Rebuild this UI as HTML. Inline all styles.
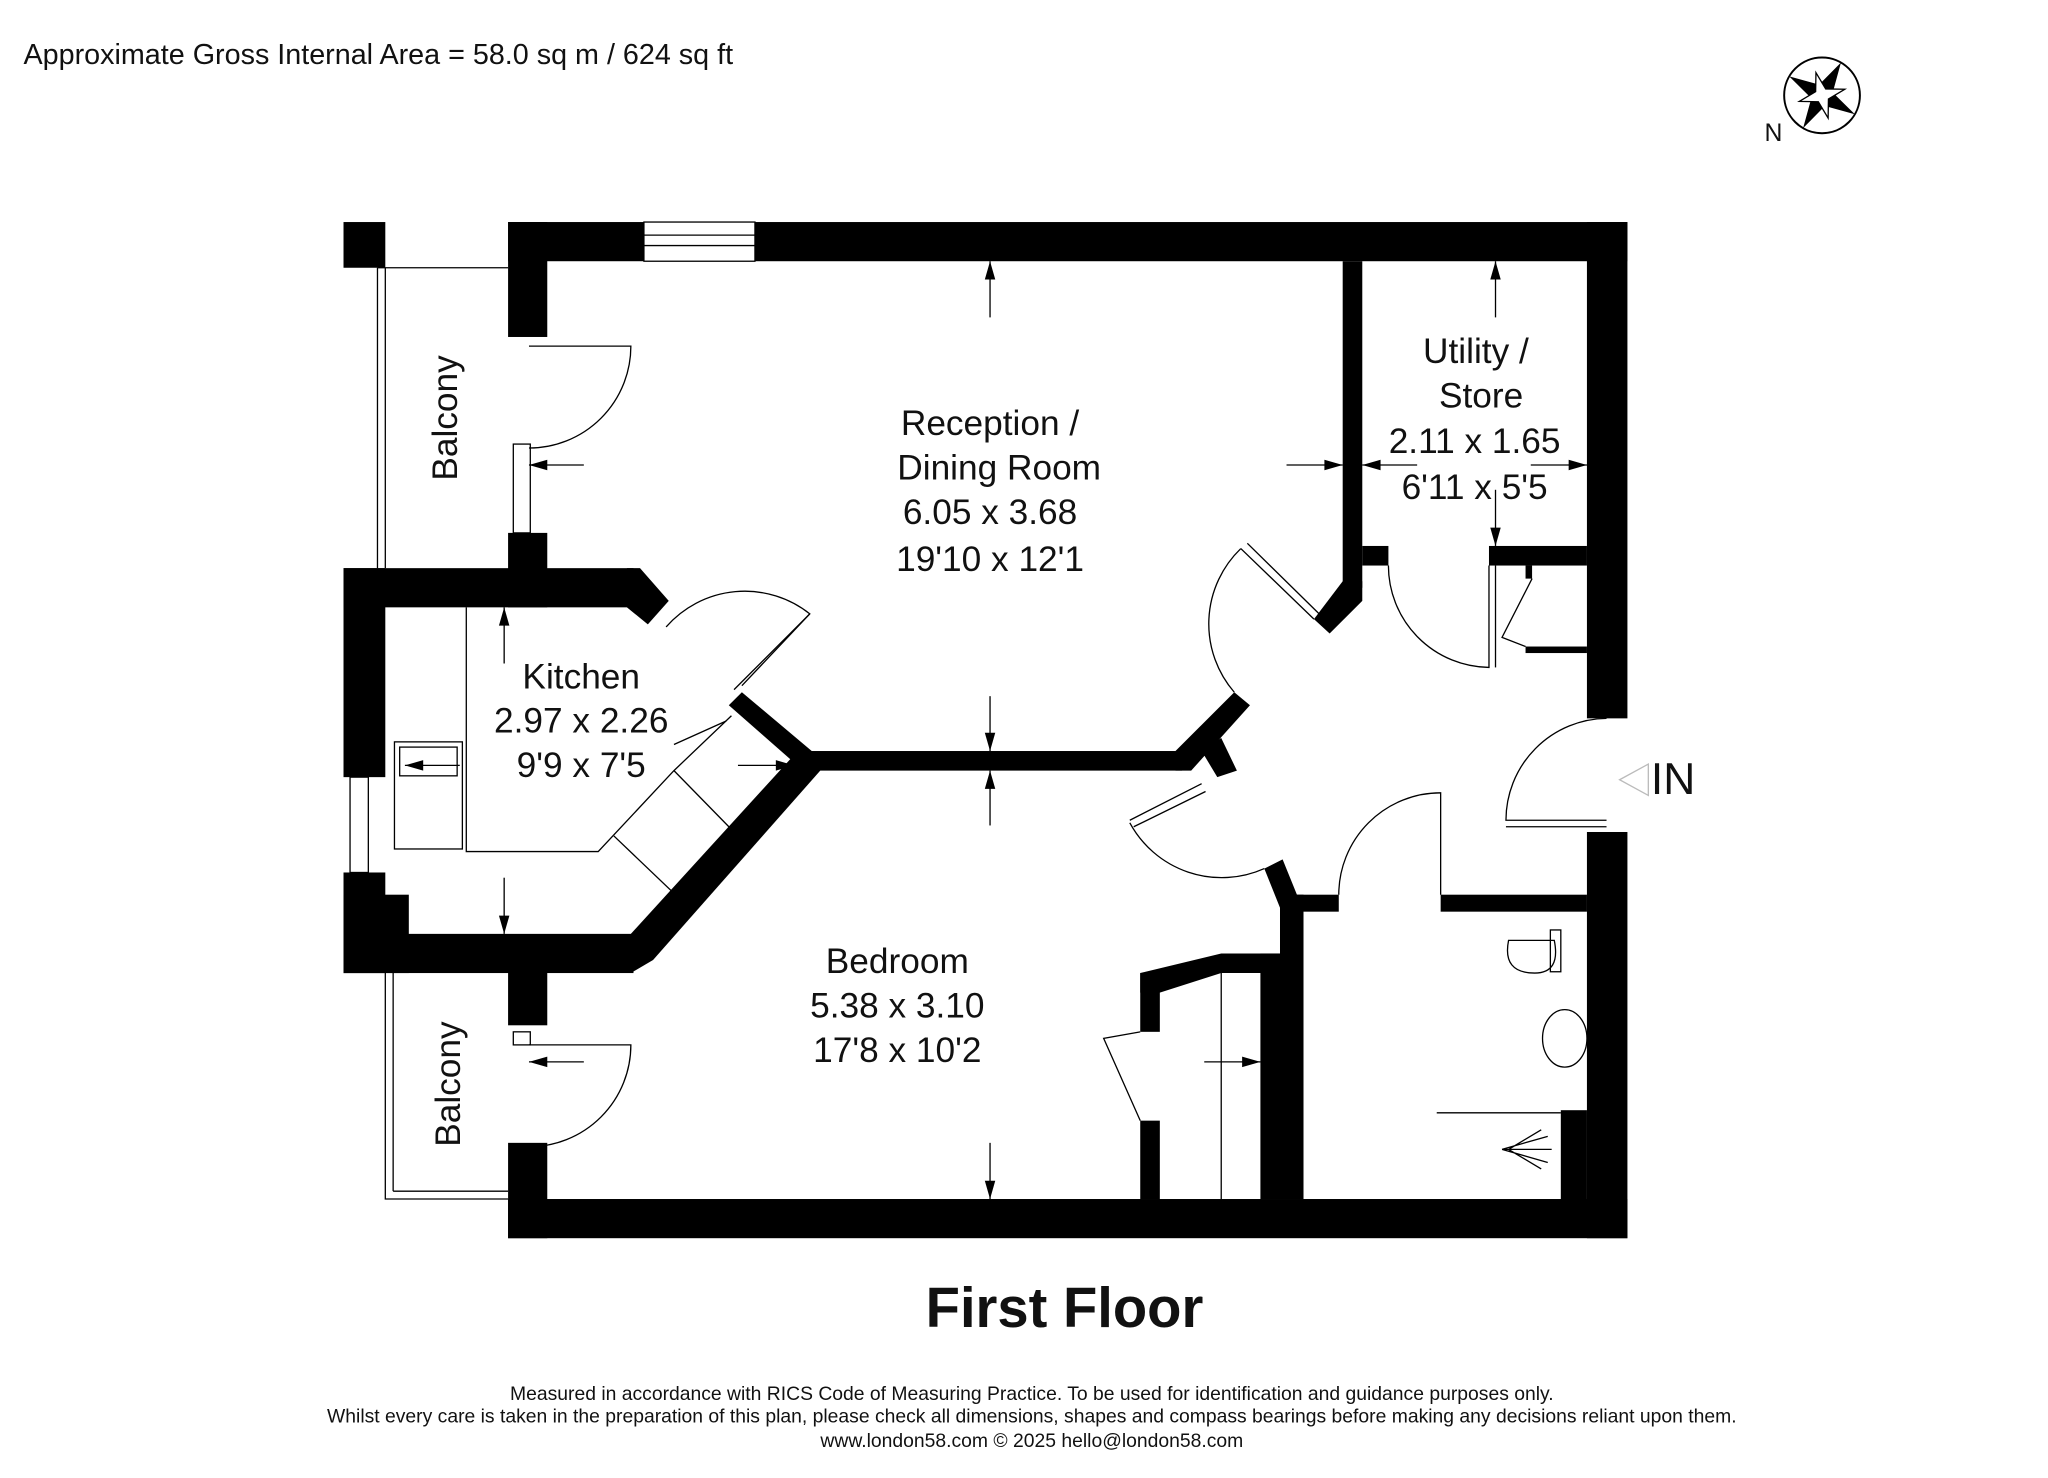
<!DOCTYPE html>
<html><head><meta charset="utf-8"><style>
html,body{margin:0;padding:0;background:#fff;}
svg{display:block;}
text{font-family:"Liberation Sans",sans-serif;fill:#111;}
</style></head><body>
<svg width="2048" height="1478" viewBox="0 0 1568 1131.6" xmlns="http://www.w3.org/2000/svg">
<rect width="1568" height="1132" fill="#fff"/>
<text x="18" y="49" font-size="22">Approximate Gross Internal Area = 58.0 sq m / 624 sq ft</text>
<!-- compass -->
<g transform="translate(1395,73)">
<circle r="29" fill="none" stroke="#000" stroke-width="1.5"/>
<polygon points="0,-29 6,-6 29,0 6,6 0,29 -6,6 -29,0 -6,-6" fill="#000" transform="rotate(30)"/>
<polygon points="0,-18 4,-4 18,0 4,4 0,18 -4,4 -18,0 -4,-4" fill="#fff" stroke="#000" transform="rotate(75)"/>
</g>
<text x="1351" y="108" font-size="19">N</text>
<g fill="#000">
<rect x="389" y="170" width="104" height="30"/>
<rect x="578" y="170" width="668" height="30"/>
<rect x="263" y="170" width="32" height="35"/>
<rect x="389" y="170" width="30" height="88"/>
<rect x="1215" y="170" width="31" height="380"/>
<rect x="1215" y="637" width="31" height="311"/>
<rect x="389" y="918" width="857" height="30"/>
<rect x="389" y="875" width="30" height="73"/>
<rect x="263" y="435" width="32" height="160"/>
<rect x="263" y="668" width="32" height="77"/>
<rect x="263" y="435" width="222" height="30"/>
<polygon points="480,435 490,435 512,460 496,478 480,465"/>
<rect x="389" y="408" width="30" height="57"/>
<rect x="263" y="715" width="222" height="30"/>
<rect x="263" y="685" width="50" height="60"/>
<polygon points="483,715 608,578 628,590 500,735 483,745"/>
<rect x="389" y="730" width="30" height="55"/>
<polygon points="558,540 568,530 625,578 615,590"/>
<rect x="610" y="575" width="295" height="15"/>
<polygon points="900,575 945,530 957,540 912,590 900,590"/>
<polygon points="920,575 935,565 947,590 932,595"/>
<rect x="1028" y="200" width="15" height="250"/>
<polygon points="1028,445 1043,445 1043,460 1018,485 1006,474"/>
<rect x="1043" y="418" width="20" height="15"/>
<rect x="1140" y="418" width="75" height="15"/>
<rect x="1168" y="495" width="47" height="5"/>
<rect x="1168" y="433" width="5" height="10"/>
<rect x="980" y="685" width="18" height="233"/>
<rect x="980" y="685" width="45" height="13"/>
<polygon points="968,665 982,658 995,690 980,695"/>
<rect x="1103" y="685" width="112" height="13"/>
<rect x="1195" y="850" width="20" height="70"/>
<rect x="873" y="745" width="15" height="45"/>
<rect x="873" y="858" width="15" height="60"/>
<polygon points="873,745 935,730 980,730 980,745 935,745 888,760 873,760"/>
<rect x="965" y="730" width="15" height="188"/>
</g>
<g fill="none" stroke="#000" stroke-width="1">
<rect x="493" y="170" width="85" height="30"/>
<line x1="493" y1="180" x2="578" y2="180"/><line x1="493" y1="188" x2="578" y2="188"/>
<polyline points="295,205 295,435"/><line x1="289" y1="205" x2="389" y2="205"/><line x1="289" y1="205" x2="289" y2="435"/>
<polyline points="295,745 295,918 389,918"/><line x1="301" y1="745" x2="301" y2="912"/><line x1="301" y1="912" x2="389" y2="912"/>
<path d="M405,265 L483,265 A78,78 0 0 1 405,343"/>
<rect x="393" y="340" width="13" height="68"/>
<path d="M405,800 L483,800 A78,78 0 0 1 405,878"/>
<rect x="393" y="790" width="13" height="10"/>
<rect x="268" y="595" width="14" height="73"/>
<path d="M510,480 A80,80 0 0 1 620,470 L568,525"/>
<line x1="562" y1="528" x2="620" y2="470"/>
<polyline points="357,465 357,652 458,652 516,590 560,548"/>
<rect x="302" y="568" width="52" height="82"/>
<rect x="306" y="572" width="44" height="22"/>
<line x1="470" y1="640" x2="515" y2="683"/>
<line x1="516" y1="590" x2="560" y2="635"/>
<line x1="516" y1="570" x2="556" y2="552"/>
<path d="M950,420 A80,80 0 0 0 945,530"/>
<line x1="950" y1="420" x2="1006" y2="474"/>
<line x1="955" y1="416" x2="1010" y2="470"/>
<path d="M865,630 A80,80 0 0 0 968,665"/>
<line x1="865" y1="628" x2="920" y2="600"/><line x1="868" y1="633" x2="923" y2="606"/>
<path d="M1025,685 A78,78 0 0 1 1103,607 L1103,685"/>
<path d="M1063,433 A78,78 0 0 0 1140,511 L1140,433"/>
<line x1="1145" y1="433" x2="1145" y2="511"/>
<path d="M1173,443 L1150,488 L1168,495"/>
<path d="M1230,550 A78,78 0 0 0 1153,628 L1230,628"/>
<line x1="1153" y1="633" x2="1230" y2="633"/>
<line x1="935" y1="745" x2="935" y2="918"/>
<path d="M873,790 L845,795 L873,858"/>
<path d="M1155,720 Q1150,745 1175,745 Q1195,745 1190,720 Z"/>
<rect x="1187" y="712" width="8" height="32"/>
<ellipse cx="1198" cy="795" rx="17" ry="22"/>
<line x1="1100" y1="852" x2="1195" y2="852"/>
<path d="M1150,880 L1185,870 M1150,880 L1185,890 M1150,880 L1188,880 M1155,880 L1180,865 M1155,880 L1180,895"/>
<path d="M1240,597 L1262,585 L1262,609 Z" stroke="#bbb"/>
<g stroke="#000">
<line x1="758" y1="200" x2="758" y2="243"/><line x1="758" y1="533" x2="758" y2="575"/>
<line x1="758" y1="590" x2="758" y2="632"/><line x1="758" y1="875" x2="758" y2="918"/>
<line x1="985" y1="356" x2="1028" y2="356"/><line x1="1043" y1="356" x2="1085" y2="356"/>
<line x1="1172" y1="356" x2="1215" y2="356"/>
<line x1="1145" y1="200" x2="1145" y2="243"/><line x1="1145" y1="375" x2="1145" y2="418"/>
<line x1="405" y1="356" x2="447" y2="356"/><line x1="405" y1="813" x2="447" y2="813"/>
<line x1="386" y1="465" x2="386" y2="508"/><line x1="386" y1="672" x2="386" y2="715"/>
<line x1="310" y1="586" x2="352" y2="586"/><line x1="565" y1="586" x2="608" y2="586"/>
<line x1="922" y1="813" x2="965" y2="813"/>
</g>
</g>
<g fill="#000">
<polygon points="758,200 754,214 762,214"/><polygon points="758,575 754,561 762,561"/>
<polygon points="758,590 754,604 762,604"/><polygon points="758,918 754,904 762,904"/>
<polygon points="1028,356 1014,352 1014,360"/><polygon points="1043,356 1057,352 1057,360"/>
<polygon points="1215,356 1201,352 1201,360"/>
<polygon points="1145,200 1141,214 1149,214"/><polygon points="1145,418 1141,404 1149,404"/>
<polygon points="405,356 419,352 419,360"/><polygon points="405,813 419,809 419,817"/>
<polygon points="386,465 382,479 390,479"/><polygon points="386,715 382,701 390,701"/>
<polygon points="310,586 324,582 324,590"/><polygon points="608,586 594,582 594,590"/>
<polygon points="965,813 951,809 951,817"/>
</g>
<g font-size="27" text-anchor="middle">
<text x="758" y="333">Reception /</text><text x="765" y="367">Dining Room</text>
<text x="758" y="401">6.05 x 3.68</text><text x="758" y="437">19'10 x 12'1</text>
<text x="1130" y="278">Utility /</text><text x="1134" y="312">Store</text>
<text x="1129" y="347">2.11 x 1.65</text><text x="1129" y="382">6'11 x 5'5</text>
<text x="445" y="527">Kitchen</text><text x="445" y="561">2.97 x 2.26</text><text x="445" y="595">9'9 x 7'5</text>
<text x="687" y="745">Bedroom</text><text x="687" y="779">5.38 x 3.10</text><text x="687" y="813">17'8 x 10'2</text>
<text x="1281" y="608" font-size="34">IN</text>
<text transform="translate(350,320) rotate(-90)">Balcony</text>
<text transform="translate(352,830) rotate(-90)">Balcony</text>
<text x="815" y="1016" font-size="43" font-weight="bold">First Floor</text>
<text x="790" y="1072" font-size="14.8">Measured in accordance with RICS Code of Measuring Practice. To be used for identification and guidance purposes only.</text>
<text x="790" y="1089" font-size="14.8">Whilst every care is taken in the preparation of this plan, please check all dimensions, shapes and compass bearings before making any decisions reliant upon them.</text>
<text x="790" y="1108" font-size="14.8">www.london58.com © 2025 hello@london58.com</text>
</g>
</svg>
</body></html>
